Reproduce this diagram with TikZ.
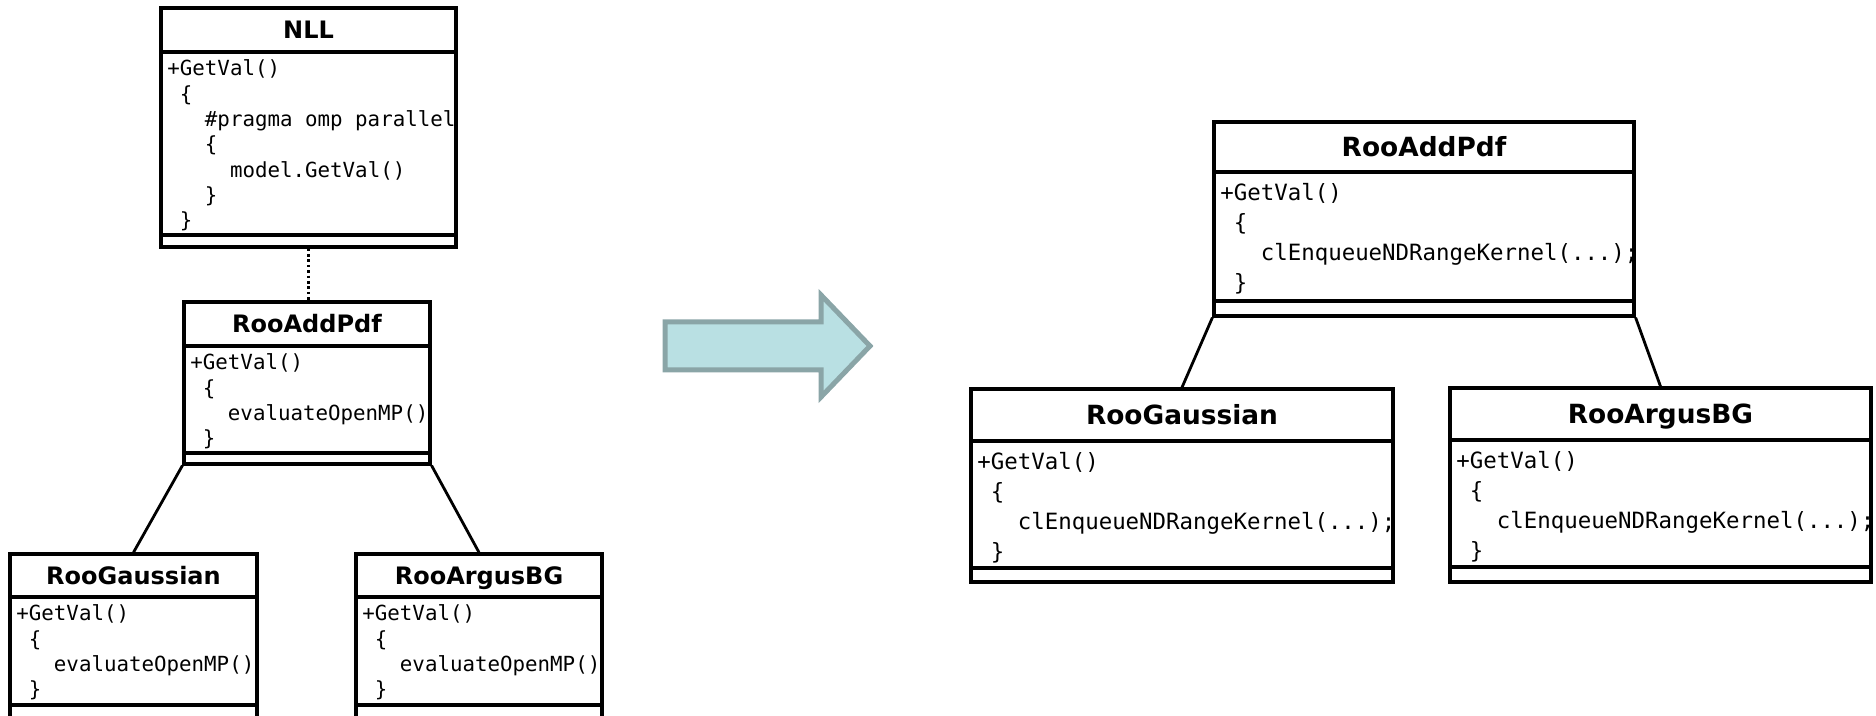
\documentclass[tikz,border=0pt]{standalone}
\usepackage{fontspec}
\usetikzlibrary{fit}
\newfontfamily\dvsans{DejaVu Sans}
\newfontfamily\dvmono{DejaVu Sans Mono}
\newcommand\myind[1]{\hphantom{#1}}
\newcommand\mydots{...}
\definecolor{arrowfill}{HTML}{B9E0E3}
\definecolor{arrowdraw}{HTML}{8AA5A7}
\tikzset{
  boxframe/.style={draw, line width=1.6pt, inner sep=0pt, rectangle},
  boxline/.style={line width=1.6pt},
  titletext/.style={font=\dvsans\bfseries\fontsize{12}{14}\selectfont, inner sep=0pt, anchor=base},
  codetext/.style={font=\dvmono\fontsize{10.4}{12}\selectfont, inner sep=0pt, anchor=base west},
  link/.style={line width=1.4pt},
  dep/.style={line width=1.3pt, dash pattern=on 1.3pt off 1.4pt},
  bigarrow/.style={fill=arrowfill, draw=arrowdraw, line width=2.5pt, line join=miter},
}
% #1 name, #2 x1, #3 y1, #4 x2, #5 y2, #6 title divider, #7 bottom divider, #8 title
\newcommand\classbox[8]{%
  \node[boxframe, fit={(#2,#3) (#4,#5)}] (#1) {};
  \draw[boxline] (#2,#6) -- (#4,#6);
  \draw[boxline] (#2,#7) -- (#4,#7);
  \node[titletext] (#1-title) at ({(#2+#4)/2}, {(#3+#6)/2+\capoff}) {#8};
}
% #1 box name, #2 x left, #3 title divider y, #4 list of lines
\newcommand\codeblock[4]{%
  \foreach \cl [count=\ci from 0] in {#4}{%
    \node[codetext] (#1-line\ci) at ({#2+\textoff}, {#3+\firstoff+\ci*\linesep}) {\cl};
  }
}
\begin{document}
\begin{tikzpicture}[x=0.5pt, y=-0.5pt]
\useasboundingbox (0,0) rectangle (1876,716);

% ---------- left side ----------
\begin{scope}
\def\capoff{8.75}\def\textoff{6}\def\firstoff{24}\def\linesep{25.3}
\classbox{nll}{161}{8}{456}{247}{52}{235}{NLL}
\codeblock{nll}{161}{52}{{+GetVal()},{\myind{x}\{},{\myind{xxx}\#pragma omp parallel},{\myind{xxx}\{},{\myind{xxxxx}model.GetVal()},{\myind{xxx}\}},{\myind{x}\}}}

\classbox{addL}{184}{302}{430}{464}{346}{453}{RooAddPdf}
\codeblock{addL}{184}{346}{{+GetVal()},{\myind{x}\{},{\myind{xxx}evaluateOpenMP()},{\myind{x}\}}}

\classbox{gaussL}{10}{554}{257}{718}{597}{705}{RooGaussian}
\codeblock{gaussL}{10}{597}{{+GetVal()},{\myind{x}\{},{\myind{xxx}evaluateOpenMP()},{\myind{x}\}}}

\classbox{argusL}{356}{554}{602}{718}{597}{705}{RooArgusBG}
\codeblock{argusL}{356}{597}{{+GetVal()},{\myind{x}\{},{\myind{xxx}evaluateOpenMP()},{\myind{x}\}}}
\end{scope}

\draw[dep] (nll.south) -- (nll.south |- addL.north);
\draw[link] (addL.south west) -- (gaussL.north);
\draw[link] (addL.south east) -- (argusL.north);

% ---------- arrow ----------
\draw[bigarrow] (665,322) -- (821,322) -- (821,295) -- (870,346) -- (821,397) -- (821,370) -- (665,370) -- cycle;

% ---------- right side ----------
\begin{scope}[titletext/.append style={font=\dvsans\bfseries\fontsize{13.2}{15}\selectfont},
              codetext/.append style={font=\dvmono\fontsize{11.2}{13}\selectfont}]
\def\capoff{9.6}\def\textoff{6}\def\firstoff{29}\def\linesep{30}
\classbox{addR}{1214}{122}{1634}{316}{172}{301}{RooAddPdf}
\codeblock{addR}{1214}{172}{{+GetVal()},{\myind{x}\{},{\myind{xxx}clEnqueueNDRangeKernel(\mydots);},{\myind{x}\}}}

\classbox{gaussR}{971}{389}{1393}{582}{441}{568}{RooGaussian}
\codeblock{gaussR}{971}{441}{{+GetVal()},{\myind{x}\{},{\myind{xxx}clEnqueueNDRangeKernel(\mydots);},{\myind{x}\}}}

\classbox{argusR}{1450}{388}{1871}{582}{440}{567}{RooArgusBG}
\codeblock{argusR}{1450}{440}{{+GetVal()},{\myind{x}\{},{\myind{xxx}clEnqueueNDRangeKernel(\mydots);},{\myind{x}\}}}
\end{scope}

\draw[link] (addR.south west) -- (gaussR.north);
\draw[link] (addR.south east) -- (argusR.north);
\end{tikzpicture}
\end{document}
